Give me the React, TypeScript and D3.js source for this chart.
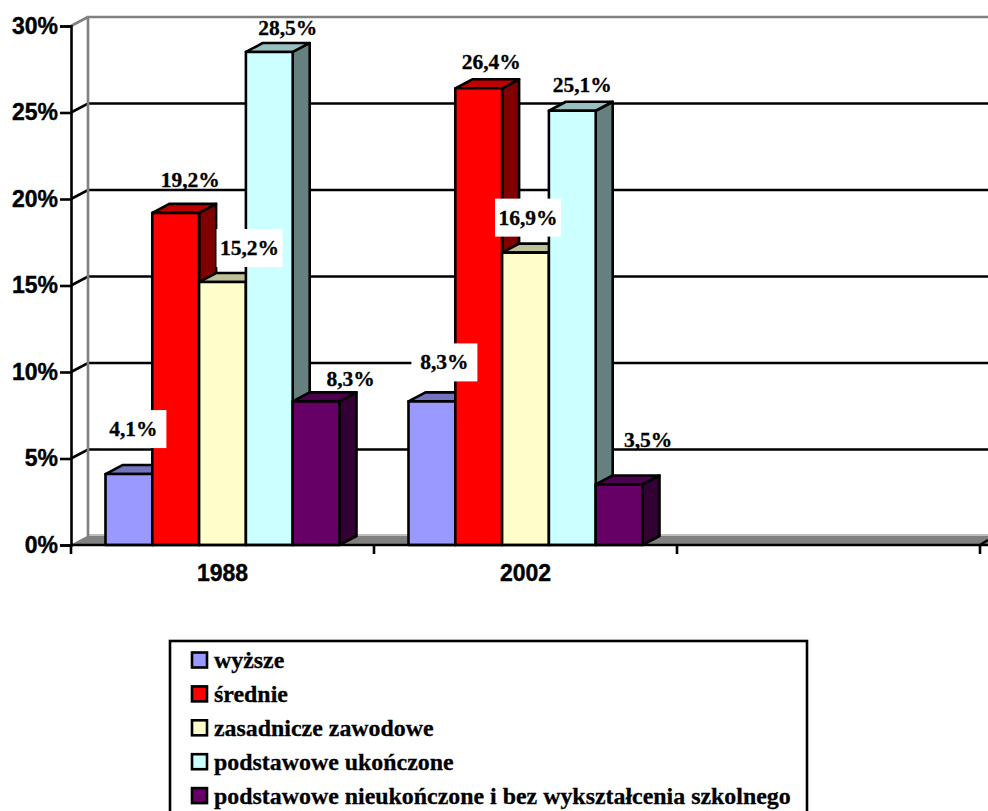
import { useEffect, useRef } from "react";
import * as d3 from "d3";

const years = ["1988", "2002", ""];
const series = [
  "wyższe",
  "średnie",
  "zasadnicze zawodowe",
  "podstawowe ukończone",
  "podstawowe nieukończone i bez wykształcenia szkolnego",
];
const values1988 = [4.1, 19.2, 15.2, 28.5, 8.3];
const values2002 = [8.3, 26.4, 16.9, 25.1, 3.5];
const colors = ["#9999ff", "#ff0000", "#ffffcc", "#ccffff", "#660066"];
const yTicks = [0, 5, 10, 15, 20, 25, 30];

// hand-placed data labels, as in the original: [dx, dy, white box]
const labels1988: [number, number, boolean][] = [
  [4.5, -45, true],
  [14.5, -33, false],
  [27, -34, true],
  [18.5, -24, false],
  [34.5, -22, false],
];
const labels2002: [number, number, boolean][] = [
  [12.5, -39, true],
  [12.5, -26, false],
  [2.5, -35, true],
  [10, -26, false],
  [29, -44, false],
];

const WIDTH = 988;
const HEIGHT = 811;
const LEFT = 71;
const RIGHT = 980;
const TOP = 26;
const BOTTOM = 545;
const DX = 17;
const DY = 9;
const LINE = 2.6;
const SERIF = "'Liberation Serif', serif";
const SANS = "'Liberation Sans', sans-serif";

const shade = (color: string, k: number) => {
  const c = d3.rgb(color);
  return d3.rgb(c.r * k, c.g * k, c.b * k).formatHex();
};

export default function App() {
  const yAxisRef = useRef<SVGGElement>(null);
  const xAxisRef = useRef<SVGGElement>(null);

  const x0 = d3.scaleBand().domain(years).range([LEFT, RIGHT]);
  const x1 = d3
    .scaleBand()
    .domain(series)
    .range([0, x0.bandwidth()])
    .paddingInner(0)
    .paddingOuter(0.737);
  const y = d3.scaleLinear().domain([0, 30]).range([BOTTOM, TOP]);

  useEffect(() => {
    const yAxis = d3
      .select(yAxisRef.current)
      .call(
        d3
          .axisLeft(y)
          .tickValues(yTicks)
          .tickSize(11)
          .tickPadding(2)
          .tickFormat((d) => d + "%") as any
      );
    yAxis.select(".domain").attr("stroke", "#000").attr("stroke-width", LINE);
    yAxis.selectAll("line").attr("stroke", "#000").attr("stroke-width", LINE);
    yAxis
      .selectAll("text")
      .attr("font-family", SANS)
      .attr("font-weight", "bold")
      .attr("font-size", 23)
      .attr("fill", "#000")
      .attr("stroke", "#000")
      .attr("stroke-width", 0.4);

    const xAxis = d3
      .select(xAxisRef.current)
      .call(d3.axisBottom(x0).tickSize(0).tickPadding(20) as any);
    xAxis.select(".domain").remove();
    xAxis
      .selectAll("text")
      .attr("font-family", SANS)
      .attr("font-weight", "bold")
      .attr("font-size", 23)
      .attr("fill", "#000")
      .attr("stroke", "#000")
      .attr("stroke-width", 0.4);
  });

  const groups = [
    { year: years[0], values: values1988, labels: labels1988 },
    { year: years[1], values: values2002, labels: labels2002 },
  ];

  const bars = groups.map((g) =>
    g.values.map((v, i) => {
      const bx = (x0(g.year) as number) + (x1(series[i]) as number);
      const w = x1.bandwidth();
      const top = y(v);
      return (
        <g key={g.year + i} stroke="#000" strokeWidth={LINE} strokeLinejoin="round">
          <path
            d={`M${bx + w},${BOTTOM}L${bx + w + DX},${BOTTOM - DY}L${bx + w + DX},${top - DY}L${bx + w},${top}Z`}
            fill={shade(colors[i], 0.5)}
          />
          <path
            d={`M${bx},${top}L${bx + DX},${top - DY}L${bx + w + DX},${top - DY}L${bx + w},${top}Z`}
            fill={shade(colors[i], 0.75)}
          />
          <rect x={bx} y={top} width={w} height={BOTTOM - top} fill={colors[i]} />
        </g>
      );
    })
  );

  const dataLabels = groups.map((g) =>
    g.values.map((v, i) => {
      const cx = (x0(g.year) as number) + (x1(series[i]) as number) + x1.bandwidth() / 2 + g.labels[i][0];
      const cy = y(v) + g.labels[i][1];
      return (
        <g key={g.year + i}>
          {g.labels[i][2] && <rect x={cx - 33} y={cy - 19} width={66} height={38} fill="#fff" />}
          <text
            x={cx}
            y={cy}
            textAnchor="middle"
            dominantBaseline="central"
            fontFamily={SERIF}
            fontWeight="bold"
            fontSize={21.5}
            fill="#000"
            stroke="#000"
            strokeWidth={0.3}
          >
            {v.toFixed(1).replace(".", ",")}%
          </text>
        </g>
      );
    })
  );

  return (
    <svg
      width={WIDTH}
      height={HEIGHT}
      style={{ position: "absolute", left: 0, top: 0, background: "#fff" }}
    >
      {/* back wall and floor */}
      <path
        d={`M${LEFT},${BOTTOM}L${LEFT + DX},${BOTTOM - DY}L${WIDTH + 2},${BOTTOM - DY}L${WIDTH + 2},${BOTTOM - 1}L${RIGHT},${BOTTOM}Z`}
        fill="#808080"
        stroke="#808080"
      />
      <line x1={LEFT + DX} x2={WIDTH} y1={BOTTOM - DY - 1} y2={BOTTOM - DY - 1} stroke="#c0c0c0" strokeWidth={2} />
      {yTicks.slice(1, -1).map((t) => (
        <path
          key={t}
          d={`M${LEFT},${y(t)}L${LEFT + DX},${y(t) - DY}L${WIDTH},${y(t) - DY}`}
          fill="none"
          stroke="#000"
          strokeWidth={LINE}
        />
      ))}
      <path
        d={`M${LEFT + DX},${BOTTOM - DY}L${LEFT + DX},${y(30) - DY}L${WIDTH},${y(30) - DY}M${LEFT},${y(30)}L${LEFT + DX},${y(30) - DY}`}
        fill="none"
        stroke="#808080"
        strokeWidth={LINE}
      />

      {bars}

      {/* category axis, ticks sit on the band edges */}
      <line x1={LEFT} x2={WIDTH} y1={BOTTOM} y2={BOTTOM} stroke="#000" strokeWidth={LINE} />
      {[...years.map((c) => x0(c) as number), RIGHT].map((t) => (
        <line key={t} x1={t} x2={t} y1={BOTTOM} y2={BOTTOM + 9} stroke="#000" strokeWidth={LINE} />
      ))}
      <path d={`M${RIGHT},${BOTTOM}L${WIDTH},${BOTTOM - 5}`} stroke="#000" strokeWidth={LINE} fill="none" />
      <g ref={yAxisRef} transform={`translate(${LEFT},0)`} />
      <g ref={xAxisRef} transform={`translate(0,${BOTTOM})`} />

      {dataLabels}

      {/* legend */}
      <rect x={170} y={641} width={637} height={180} fill="#fff" stroke="#000" strokeWidth={LINE} />
      {series.map((s, i) => (
        <g key={s} transform={`translate(192,${660 + i * 33.9})`}>
          <rect x={0} y={-7.5} width={15} height={15} fill={colors[i]} stroke="#000" strokeWidth={LINE} />
          <text
            x={22}
            y={0}
            dominantBaseline="central"
            fontFamily={SERIF}
            fontWeight="bold"
            fontSize={23.9}
            fill="#000"
            stroke="#000"
            strokeWidth={0.3}
          >
            {s}
          </text>
        </g>
      ))}
    </svg>
  );
}
